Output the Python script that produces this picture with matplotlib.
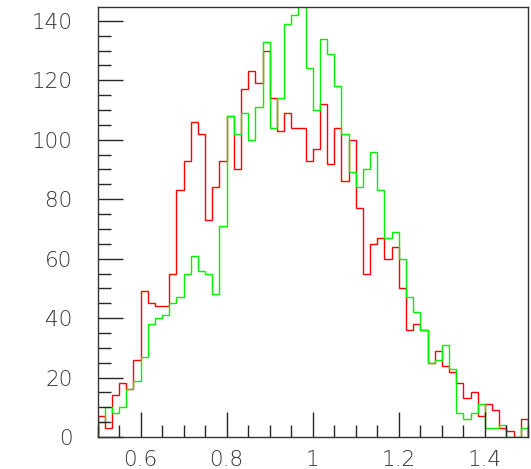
import numpy as np
import matplotlib
matplotlib.use("Agg")
import matplotlib.pyplot as plt
from matplotlib.ticker import MultipleLocator, FuncFormatter

# 60 bins between 0.5 and 1.5
x_min, x_max, n_bins = 0.5, 1.5, 60

red_counts = [7, 3, 14, 18, 16, 26, 49, 45, 44, 44,
              55, 83, 93, 106, 102, 73, 84, 93, 108, 90,
              117, 123, 119, 130, 114, 103, 109, 104, 104, 93,
              97, 112, 92, 104, 86, 100, 77, 55, 65, 67,
              60, 64, 50, 36, 38, 36, 25, 29, 24, 22,
              18, 13, 15, 7, 11, 9, 3, 2, 0, 6]

green_counts = [5, 10, 8, 10, 16, 19, 27, 38, 40, 41,
                45, 47, 55, 61, 56, 55, 48, 71, 108, 102,
                109, 100, 111, 133, 104, 114, 139, 142, 148, 124,
                110, 134, 129, 118, 102, 89, 84, 90, 96, 83,
                67, 69, 60, 47, 42, 36, 25, 26, 31, 23,
                8, 6, 8, 11, 3, 3, 4, 0, 0, 3]

y_max = 144.5

edges = np.linspace(x_min, x_max, n_bins + 1)

fig = plt.figure(figsize=(5.31, 4.69), dpi=100)
ax = fig.add_axes([97.5 / 531, 32 / 469, 430.5 / 531, 429.5 / 469])

ax.stairs(red_counts, edges, baseline=0, color="#ff0000", lw=1.0)
ax.stairs(green_counts, edges, baseline=0, color="#00f000", lw=1.0)

ax.set_xlim(x_min, x_max)
ax.set_ylim(0, y_max)

# ROOT-like axes: ticks pointing inwards, only on left and bottom
ax.xaxis.set_major_locator(MultipleLocator(0.2))
ax.xaxis.set_minor_locator(MultipleLocator(0.05))
ax.yaxis.set_major_locator(MultipleLocator(20))
ax.yaxis.set_minor_locator(MultipleLocator(5))
ax.xaxis.set_major_formatter(FuncFormatter(lambda v, p: "%g" % round(v, 3)))

ax.tick_params(which="both", direction="in", top=False, right=False,
               color="0.15", width=1.0)
ax.tick_params(which="major", length=18)
ax.tick_params(which="minor", length=9)
ax.tick_params(axis="y", which="major", pad=18, labelsize=15.5,
               labelcolor="0.2")
ax.tick_params(axis="x", which="major", pad=9, labelsize=15.5,
               labelcolor="0.2")
for lab in ax.get_xticklabels() + ax.get_yticklabels():
    lab.set_fontweight("light")

for side in ["left", "bottom", "top", "right"]:
    ax.spines[side].set_color("0.2")
    ax.spines[side].set_linewidth(1.0)

fig.savefig("out.png", dpi=100)
